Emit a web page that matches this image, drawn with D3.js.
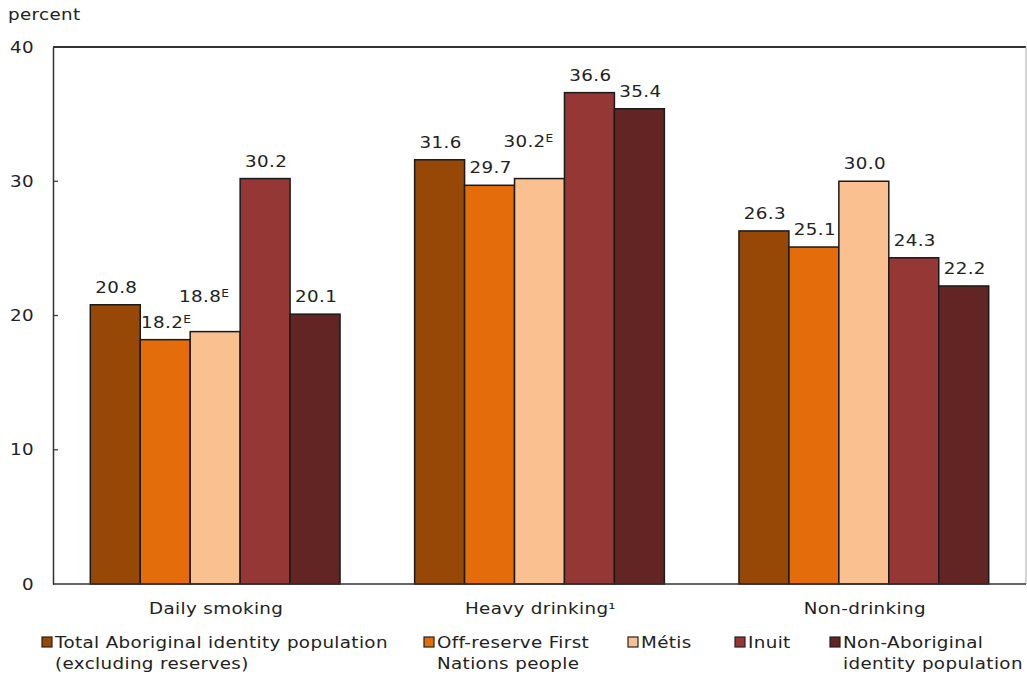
<!DOCTYPE html>
<html><head><meta charset="utf-8">
<script src="https://cdn.jsdelivr.net/npm/d3@7"></script>
<style>
body{margin:0;background:#fff;}
text{font-family:Verdana,"DejaVu Sans",sans-serif;fill:#222;letter-spacing:0.3px;}
</style></head>
<body><svg id="c" width="1027" height="679"></svg>
<script>
const categories = ["Daily smoking", "Heavy drinking", "Non-drinking"];
const categorySup = ["", "¹", ""];
const seriesNames = ["Total Aboriginal identity population (excluding reserves)", "Off-reserve First Nations people", "Métis", "Inuit", "Non-Aboriginal identity population"];
const legendLines = [["Total Aboriginal identity population", "(excluding reserves)"], ["Off-reserve First", "Nations people"], ["Métis"], ["Inuit"], ["Non-Aboriginal", "identity population"]];
const colors = ["#974706", "#E46C0A", "#FAC090", "#953735", "#632523"];
const totalAboriginal = [20.8, 31.6, 26.3];
const offReserveFN = [18.2, 29.7, 25.1];
const metis = [18.8, 30.2, 30.0];
const inuit = [30.2, 36.6, 24.3];
const nonAboriginal = [20.1, 35.4, 22.2];
const useWithCaution = [[false,false,false],[true,false,false],[true,true,false],[false,false,false],[false,false,false]];
const yTicks = [0, 10, 20, 30, 40];

const series = [totalAboriginal, offReserveFN, metis, inuit, nonAboriginal];
const svg = d3.select("#c");
const L = 53, R = 1026, T = 47, B = 584;
const SX = 1.22;

function addText(parent, x, y, anchor) {
  return parent.append("text")
    .attr("transform", `translate(${x},${y}) scale(${SX},1)`)
    .attr("text-anchor", anchor || "start")
    .style("font-size", "15px");
}

const x0 = d3.scaleBand().domain(categories).range([L, R]).paddingInner(0.23).paddingOuter(0.115);
const x1 = d3.scaleBand().domain(d3.range(series.length)).range([0, x0.bandwidth()]);
const y = d3.scaleLinear().domain([0, 40]).range([B, T]);

// frame
svg.append("line").attr("x1", L).attr("x2", R).attr("y1", T).attr("y2", T).attr("stroke", "#333").attr("stroke-width", 2);
svg.append("line").attr("x1", R).attr("x2", R).attr("y1", T).attr("y2", B).attr("stroke", "#aaa").attr("stroke-width", 1);

// y axis
const yAxis = d3.axisLeft(y).tickValues(yTicks).tickSize(0).tickFormat("");
const ya = svg.append("g").attr("transform", `translate(${L},0)`).call(yAxis);
ya.select(".domain").attr("stroke", "#333").attr("stroke-width", 1.5);
ya.selectAll(".tick").each(function(d) {
  addText(d3.select(this), -19, 5, "end").text(d3.format("d")(d));
});
svg.selectAll(".itick").data(yTicks.filter(d => d > 0 && d < 40)).enter().append("line")
  .attr("x1", L).attr("x2", L + 5).attr("y1", d => y(d)).attr("y2", d => y(d)).attr("stroke", "#333").attr("stroke-width", 1.2);

addText(svg, 8, 20).text("percent");

// bars
const data = [];
categories.forEach((c, ci) => series.forEach((s, si) => data.push({c, ci, si, v: s[ci], e: useWithCaution[si][ci]})));
svg.append("g").selectAll("rect").data(data).enter().append("rect")
  .attr("x", d => x0(d.c) + x1(d.si))
  .attr("y", d => y(d.v))
  .attr("width", x1.bandwidth())
  .attr("height", d => y(0) - y(d.v))
  .attr("fill", d => colors[d.si])
  .attr("stroke", "#1a1a1a").attr("stroke-width", 1.5);

// x axis line
svg.append("line").attr("x1", L).attr("x2", R).attr("y1", B).attr("y2", B).attr("stroke", "#333").attr("stroke-width", 1.5);

// value labels with simple collision avoidance
const lg = svg.append("g");
const placed = [];
data.forEach(d => {
  let cx = x0(d.c) + x1(d.si) + x1.bandwidth() / 2 + 1;
  let yy = y(d.v) - 12;
  const t = addText(lg, cx, yy, "middle");
  t.append("tspan").text(d3.format(".1f")(d.v));
  if (d.e) t.append("tspan").attr("dy", -5).style("font-size", "10px").text("E");
  const w = t.node().getComputedTextLength() * SX;
  const prev = placed.filter(p => p.ci === d.ci);
  prev.forEach(p => {
    const overlapX = !(cx - w / 2 > p.x1 + 4 || cx + w / 2 < p.x0 - 4);
    if (overlapX && yy <= p.y && p.y - yy < 15) { yy = p.y - 26; cx -= 12; }
  });
  t.attr("transform", `translate(${cx},${yy}) scale(${SX},1)`);
  placed.push({ci: d.ci, x0: cx - w / 2, x1: cx + w / 2, y: yy});
});

// category labels
categories.forEach((c, i) => {
  const t = addText(svg, x0(c) + x0.bandwidth() / 2 + 1, 614, "middle");
  t.append("tspan").text(c);
  if (categorySup[i]) t.append("tspan").text(categorySup[i]);
});

// legend
const legendX = [42, 424, 628, 735, 830];
seriesNames.forEach((n, i) => {
  const g = svg.append("g").attr("transform", `translate(${legendX[i]},637)`);
  g.append("rect").attr("width", 10).attr("height", 10).attr("fill", colors[i]).attr("stroke", "#222").attr("stroke-width", 1.2);
  legendLines[i].forEach((line, li) => {
    addText(g, 13, 11 + li * 21).text(line);
  });
});
</script></body></html>
